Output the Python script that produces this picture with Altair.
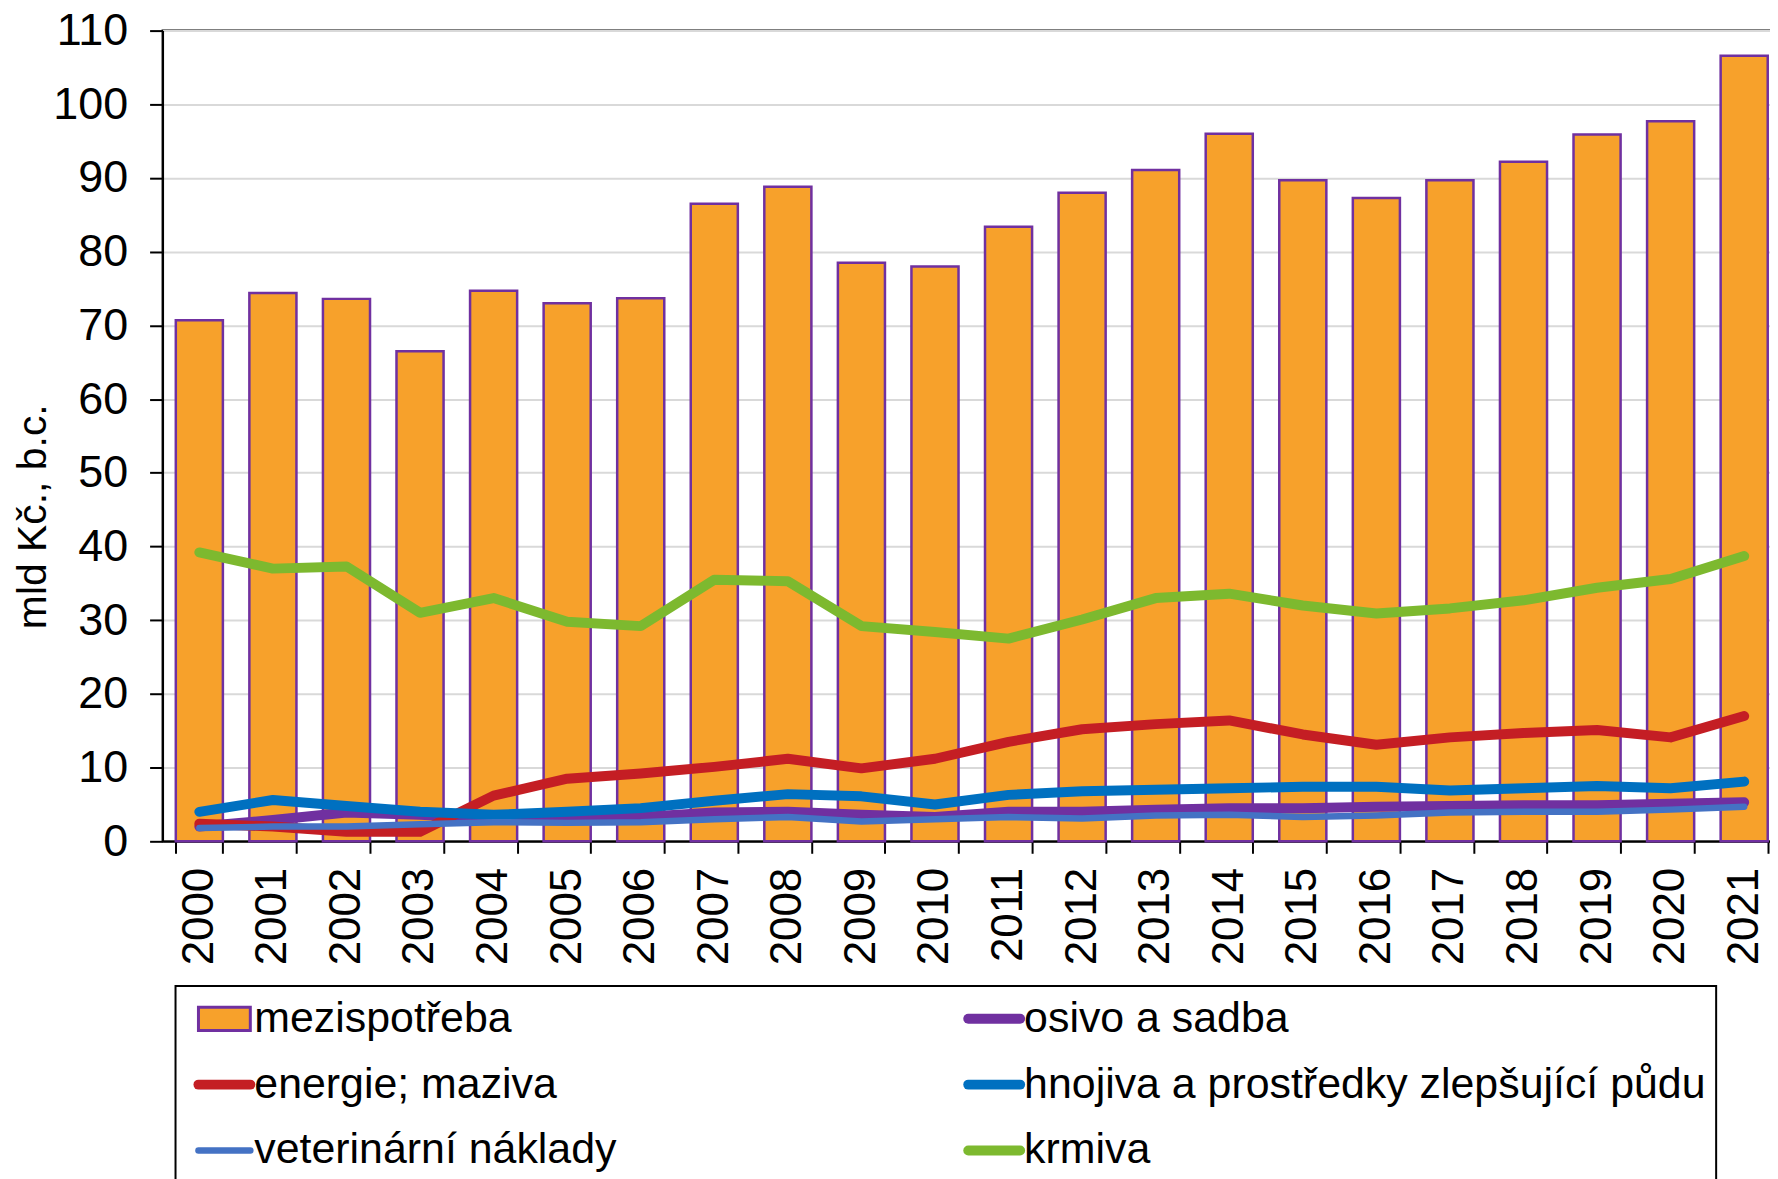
import altair as alt
import pandas as pd

# ---------------- data ----------------
years = [str(y) for y in range(2000, 2022)]

mezispotreba = [70.7, 74.4, 73.6, 66.5, 74.7, 73.0, 73.7, 86.5, 88.8, 78.5, 78.0,
                83.4, 88.0, 91.1, 96.0, 89.7, 87.3, 89.7, 92.2, 95.9, 97.7, 106.6]
osivo = [2.0, 2.9, 3.9, 3.6, 3.1, 3.1, 3.3, 3.9, 4.0, 3.6, 3.3,
         4.0, 4.0, 4.3, 4.5, 4.5, 4.7, 4.8, 4.9, 4.9, 5.1, 5.3]
energie = [2.4, 2.0, 1.3, 1.3, 6.2, 8.5, 9.2, 10.1, 11.2, 9.9, 11.2,
           13.5, 15.2, 15.9, 16.4, 14.5, 13.1, 14.1, 14.7, 15.1, 14.1, 17.0]
hnojiva = [4.0, 5.6, 4.8, 4.0, 3.6, 4.0, 4.5, 5.5, 6.4, 6.1, 5.0,
           6.3, 6.8, 7.0, 7.2, 7.4, 7.4, 6.9, 7.2, 7.5, 7.2, 8.1]
veterinarni = [1.8, 2.0, 2.0, 2.3, 2.6, 2.5, 2.6, 3.0, 3.3, 2.7, 3.0,
               3.3, 3.1, 3.5, 3.6, 3.3, 3.5, 3.9, 4.0, 4.0, 4.3, 4.7]
krmiva = [39.2, 37.0, 37.3, 31.0, 33.0, 29.8, 29.2, 35.5, 35.3, 29.2, 28.4,
          27.5, 30.1, 33.0, 33.6, 32.0, 30.9, 31.6, 32.7, 34.4, 35.6, 38.7]

series_names = ["mezispotřeba", "osivo a sadba", "energie; maziva",
                "hnojiva a prostředky zlepšující půdu", "veterinární náklady", "krmiva"]
series_colors = ["#F7A12B", "#7030A0", "#C41E24", "#0070C0", "#4472C4", "#7DB92F"]
series_widths = [0, 10, 10, 10, 6.5, 10]
legend_col = [0, 1, 0, 1, 0, 1]
legend_row = [0, 0, 1, 1, 2, 2]

y_title = "mld Kč., b.c."
FONT = "Liberation Sans"

# ---------------- main chart ----------------
x_enc = alt.X(
    "year:O", title=None,
    scale=alt.Scale(paddingInner=0.36, paddingOuter=0.18),
    axis=alt.Axis(labelAngle=270, tickBand="extent", tickSize=12, labelPadding=14,
                  grid=False, labelFontSize=44),
)
y_scale = alt.Scale(domain=[0, 110], nice=False, zero=True)
y_axis = alt.Axis(values=list(range(0, 111, 10)), title=y_title, tickSize=13,
                  labelPadding=22, titlePadding=-2, titleY=487, grid=True,
                  gridColor="#D9D9D9", gridWidth=2, labelFontSize=45, titleFontSize=41)

bar_df = pd.DataFrame({"year": years, "value": mezispotreba})
bars = alt.Chart(bar_df).mark_bar(fill="#F7A12B", stroke="#7030A0", strokeWidth=2.5).encode(
    x=x_enc, y=alt.Y("value:Q", scale=y_scale, axis=y_axis)
)

line_series = [osivo, energie, hnojiva, veterinarni, krmiva]
layers = [bars]
for name, vals, col, w in zip(series_names[1:], line_series, series_colors[1:], series_widths[1:]):
    df = pd.DataFrame({"year": years, "value": vals})
    layers.append(
        alt.Chart(df).mark_line(color=col, strokeWidth=w, strokeJoin="round", strokeCap="round")
        .encode(x=alt.X("year:O"), y=alt.Y("value:Q"))
    )

main = alt.layer(*layers).properties(
    width=1623, height=813,
    view=alt.ViewBackground(stroke="black", strokeWidth=2),
)

# ---------------- legend panel ----------------
leg_df = pd.DataFrame({
    "label": series_names,
    "color": series_colors,
    "w": series_widths,
    "col": legend_col,
    "row": legend_row,
})
lx = alt.X("col:O", axis=None, scale=alt.Scale(type="point", range=[0, 772], padding=0))
ly = alt.Y("row:O", axis=None, scale=alt.Scale(type="point", range=[33, 165], padding=0))

box = alt.Chart(pd.DataFrame({"k": [0]})).mark_rect(
    fillOpacity=0, stroke="black", strokeWidth=2
).encode(x=alt.value(13), x2=alt.value(1558), y=alt.value(0), y2=alt.value(198))

bar_sym = alt.Chart(leg_df).transform_filter("datum.w == 0").mark_point(
    shape="M-1,-0.45H1V0.45H-1Z", filled=True, fill="#F7A12B", stroke="#7030A0",
    strokeWidth=3, size=2704, opacity=1, xOffset=62
).encode(x=lx, y=ly)

line_sym = alt.Chart(leg_df).transform_filter("datum.w > 0").mark_point(
    shape="M-1,0H1", filled=False, size=2704, opacity=1, strokeCap="round", xOffset=62
).encode(
    x=lx, y=ly,
    stroke=alt.Stroke("color:N", scale=None),
    strokeWidth=alt.StrokeWidth("w:Q", scale=None),
)

leg_text = alt.Chart(leg_df).mark_text(
    align="left", baseline="middle", dx=92, fontSize=43, font=FONT, color="black"
).encode(x=lx, y=ly, text="label:N")

legend = alt.layer(box, bar_sym, line_sym, leg_text).properties(
    width=1540, height=198,
    view=alt.ViewBackground(stroke="transparent", strokeWidth=0),
)

chart = alt.vconcat(main, legend, spacing=19).properties(
    padding={"left": 3, "top": -2, "right": -12, "bottom": 0},
    background="white",
).configure_axis(
    domainColor="black", domainWidth=2, tickColor="black", tickWidth=2,
    labelFont=FONT, labelColor="black", titleFont=FONT, titleColor="black",
    titleFontWeight="normal",
)

chart.save("out.html", embed_options={"renderer": "svg", "actions": False})
